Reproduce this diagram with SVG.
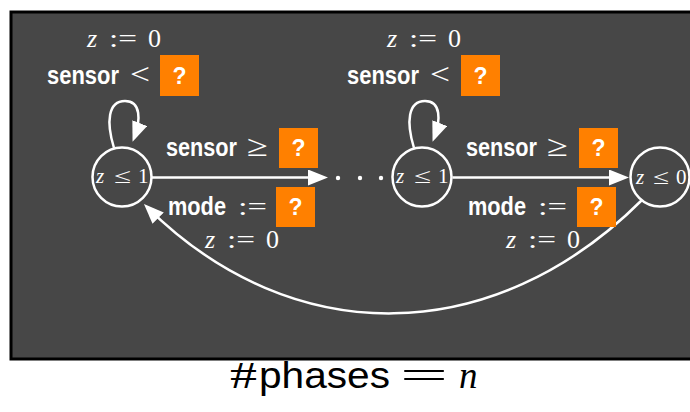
<svg xmlns="http://www.w3.org/2000/svg" width="690" height="412" viewBox="0 0 690 412">
<style>
.bg{fill:#474747;stroke:#000;stroke-width:3}
.node{fill:none;stroke:#fff;stroke-width:2.5}
.edge{fill:none;stroke:#fff;stroke-width:2.5;marker-end:url(#ah)}
.lbl{font-family:"Liberation Sans",Arial,sans-serif;font-weight:bold;font-size:25px;fill:#fff}
.m{font-family:"Liberation Serif","Times New Roman",serif;font-weight:normal;font-size:26px;fill:#fff}
.rel{font-size:30px}
.ns{font-family:"Liberation Serif","Times New Roman",serif;font-size:21px;fill:#fff}
.it{font-style:italic}
.box{fill:#FF8000}
.q{font-family:"Liberation Sans",Arial,sans-serif;font-weight:bold;font-size:23px;fill:#fff;text-anchor:middle}
.dot{fill:#fff}
.cap{font-size:37px;fill:#000}
.sf{font-family:"Liberation Sans",Arial,sans-serif}
.rm{font-family:"Liberation Serif","Times New Roman",serif}
</style>
<defs>
<marker id="ah" markerUnits="userSpaceOnUse" markerWidth="20" markerHeight="16" viewBox="0 0 20 16" refX="16" refY="8" orient="auto">
<path d="M0,0 L20,8 L0,16 z" fill="#fff"/>
</marker>
</defs>
<rect class="bg" x="11" y="12" width="690" height="347"/>

<g id="connectors">
<path class="edge" d="M151.5,177.5 L324,177.5"/>
<path class="edge" d="M452.5,177.5 L625,177.5"/>
<path class="edge" d="M114,148 C106,122 108,101 125,101 C141,101 141,120 134,138"/>
<path class="edge" d="M414,148 C406,122 408,101 425,101 C441,101 441,120 434,138"/>
<path class="edge" d="M642,200 C494,348 293,352 146.8,206.8"/>
</g>

<g id="n1">
<circle class="node" cx="122" cy="177" r="29.5"/>
<text class="ns" y="183"><tspan class="it" x="96">z</tspan><tspan x="114" textLength="17" lengthAdjust="spacingAndGlyphs">≤</tspan><tspan x="138">1</tspan></text>
</g>
<g id="dots">
<circle class="dot" cx="338" cy="178" r="2.2"/>
<circle class="dot" cx="360" cy="178" r="2.2"/>
<circle class="dot" cx="381" cy="178" r="2.2"/>
</g>
<g id="n2">
<circle class="node" cx="422" cy="177" r="29.5"/>
<text class="ns" y="183"><tspan class="it" x="396">z</tspan><tspan x="414" textLength="17" lengthAdjust="spacingAndGlyphs">≤</tspan><tspan x="438">1</tspan></text>
</g>
<g id="n3">
<circle class="node" cx="660" cy="177" r="29.5"/>
<text class="ns" y="184"><tspan class="it" x="636">z</tspan><tspan x="653" textLength="16" lengthAdjust="spacingAndGlyphs">≤</tspan><tspan x="676">0</tspan></text>
</g>

<g id="loop1-label">
<text class="m" y="47"><tspan class="it" x="87">z</tspan><tspan x="109" textLength="28" lengthAdjust="spacingAndGlyphs">:=</tspan><tspan x="148">0</tspan></text>
<text class="lbl" y="84"><tspan x="47" textLength="72" lengthAdjust="spacingAndGlyphs">sensor</tspan><tspan class="m rel" x="130" textLength="20" lengthAdjust="spacingAndGlyphs">&lt;</tspan></text>
<rect class="box" x="160" y="55" width="39" height="41"/>
<text class="q" x="179.5" y="84">?</text>
</g>
<g id="loop2-label">
<text class="m" y="47"><tspan class="it" x="387">z</tspan><tspan x="409" textLength="28" lengthAdjust="spacingAndGlyphs">:=</tspan><tspan x="448">0</tspan></text>
<text class="lbl" y="84"><tspan x="347" textLength="72" lengthAdjust="spacingAndGlyphs">sensor</tspan><tspan class="m rel" x="430" textLength="20" lengthAdjust="spacingAndGlyphs">&lt;</tspan></text>
<rect class="box" x="461" y="55" width="39" height="41"/>
<text class="q" x="480.5" y="84">?</text>
</g>
<g id="edge1-label">
<text class="lbl" y="156"><tspan x="166" textLength="71" lengthAdjust="spacingAndGlyphs">sensor</tspan><tspan class="m rel" x="247" textLength="21" lengthAdjust="spacingAndGlyphs">≥</tspan></text>
<rect class="box" x="279" y="128" width="39" height="40"/>
<text class="q" x="298.5" y="156">?</text>
<text class="lbl" y="215"><tspan x="168" textLength="58" lengthAdjust="spacingAndGlyphs">mode</tspan><tspan class="m" x="238" textLength="29" lengthAdjust="spacingAndGlyphs">:=</tspan></text>
<rect class="box" x="276" y="187" width="39" height="40"/>
<text class="q" x="295.5" y="215">?</text>
</g>
<g id="edge2-label">
<text class="lbl" y="156"><tspan x="466" textLength="71" lengthAdjust="spacingAndGlyphs">sensor</tspan><tspan class="m rel" x="547" textLength="21" lengthAdjust="spacingAndGlyphs">≥</tspan></text>
<rect class="box" x="579" y="128" width="39" height="40"/>
<text class="q" x="598.5" y="156">?</text>
<text class="lbl" y="215"><tspan x="468" textLength="58" lengthAdjust="spacingAndGlyphs">mode</tspan><tspan class="m" x="538" textLength="29" lengthAdjust="spacingAndGlyphs">:=</tspan></text>
<rect class="box" x="577" y="187" width="39" height="40"/>
<text class="q" x="596.5" y="215">?</text>
</g>
<g id="back-labels">
<text class="m" y="248"><tspan class="it" x="205">z</tspan><tspan x="227" textLength="28" lengthAdjust="spacingAndGlyphs">:=</tspan><tspan x="266">0</tspan></text>
<text class="m" y="248"><tspan class="it" x="506">z</tspan><tspan x="528" textLength="28" lengthAdjust="spacingAndGlyphs">:=</tspan><tspan x="567">0</tspan></text>
</g>

<g id="caption">
<text class="cap" y="388"><tspan class="rm" x="230" textLength="27" lengthAdjust="spacingAndGlyphs">#</tspan><tspan class="sf" x="259" textLength="131" lengthAdjust="spacingAndGlyphs">phases</tspan><tspan class="rm" x="400" textLength="48" lengthAdjust="spacingAndGlyphs">=</tspan><tspan class="rm it" x="459">n</tspan></text>
</g>
</svg>
